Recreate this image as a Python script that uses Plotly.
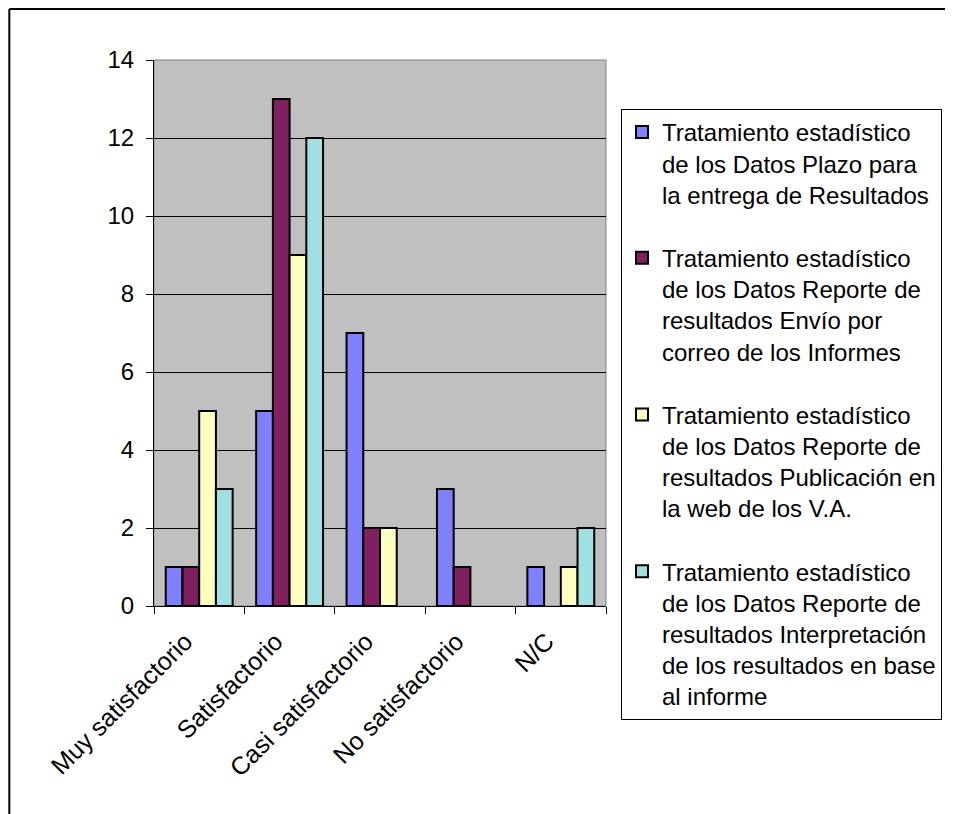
import plotly.graph_objects as go

categories = ["Muy satisfactorio", "Satisfactorio", "Casi satisfactorio", "No satisfactorio", "N/C"]
series_names = [
    "Tratamiento estadístico<br>de los Datos Plazo para<br>la entrega de Resultados",
    "Tratamiento estadístico<br>de los Datos Reporte de<br>resultados Envío por<br>correo de los Informes",
    "Tratamiento estadístico<br>de los Datos Reporte de<br>resultados Publicación en<br>la web de los V.A.",
    "Tratamiento estadístico<br>de los Datos Reporte de<br>resultados Interpretación<br>de los resultados en base<br>al informe",
]
plazo = [1, 5, 7, 3, 1]
envio = [1, 13, 2, 1, 0]
publicacion = [5, 9, 2, 0, 1]
interpretacion = [3, 12, 0, 0, 2]
colors = ["#8080FF", "#802060", "#FFFFC0", "#A0E0E0"]
y_ticks = [0, 2, 4, 6, 8, 10, 12, 14]

FONT = "Liberation Sans, Arial, sans-serif"

fig = go.Figure()
for i, (name, vals) in enumerate(zip(series_names, [plazo, envio, publicacion, interpretacion])):
    fig.add_trace(go.Bar(
        x=categories, y=vals, name=name,
        marker=dict(color=colors[i],
                    line=dict(color="black", width=[2 if v > 0 else 0 for v in vals])),
        legendgroup=str(i),
    ))

# page has an 8px body margin: figure pixel = screen pixel - 8
W, H = 945, 806
L, R, T, B = 146, 599, 52, 598
pw, ph = R - L, B - T

def px(x):
    return (x - L) / pw

def py(y):
    return (B - y) / ph

fig.update_layout(
    width=W, height=H,
    margin=dict(l=L, r=W - R, t=T, b=H - B, pad=0),
    paper_bgcolor="white",
    plot_bgcolor="#C0C0C0",
    barmode="group",
    bargap=0.26,
    bargroupgap=0,
    font=dict(family=FONT, size=24, color="black"),
    legend=dict(
        x=px(613), y=py(101), xanchor="left", yanchor="top",
        bgcolor="white", bordercolor="black", borderwidth=1,
        font=dict(family=FONT, size=24, color="black"),
        tracegroupgap=29,
        valign="top",
        maxheight=780,
    ),
    xaxis=dict(
        type="category", tickangle=-45, tickson="boundaries",
        ticks="outside", ticklen=7, tickcolor="black",
        showline=True, linecolor="black", linewidth=1,
        showgrid=False, tickfont=dict(size=25),
        ticklabelstandoff=10, ticklabelshift=-14,
    ),
    yaxis=dict(
        range=[0, 14], tickvals=y_ticks,
        ticks="outside", ticklen=7, tickcolor="black",
        showline=True, linecolor="black", linewidth=1,
        showgrid=True, gridcolor="black", gridwidth=1,
        zeroline=False, tickfont=dict(size=24),
        ticklabelstandoff=7,
    ),
    shapes=[
        dict(type="rect", xref="paper", yref="paper", x0=0, x1=1, y0=0, y1=1,
             line=dict(color="#808080", width=1), layer="below"),
        dict(type="line", xref="paper", yref="paper", x0=px(1), x1=px(W), y0=py(1), y1=py(1),
             line=dict(color="black", width=2)),
        dict(type="line", xref="paper", yref="paper", x0=px(1), x1=px(1), y0=py(1), y1=py(H),
             line=dict(color="black", width=2)),
    ],
)

fig.write_html("out.html")
